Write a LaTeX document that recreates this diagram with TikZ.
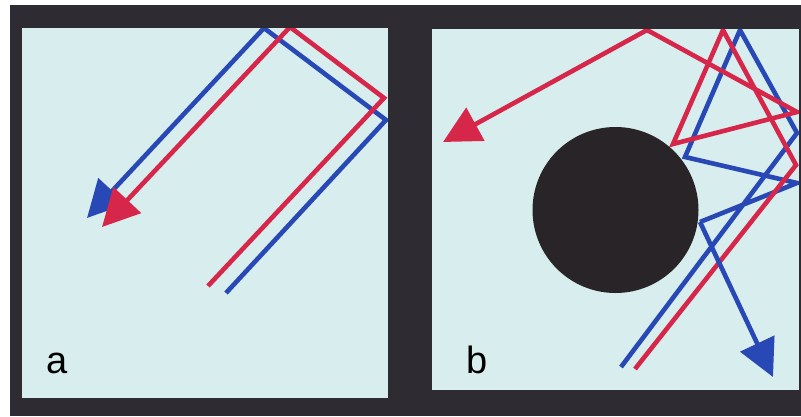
\documentclass[tikz,border=0pt]{standalone}
\usepackage{fontspec}
\setmainfont{Liberation Sans}
\usetikzlibrary{arrows.meta}
\definecolor{framedark}{RGB}{46,44,50}
\definecolor{panelbg}{RGB}{216,237,237}
\definecolor{rayred}{RGB}{214,38,74}
\definecolor{rayblue}{RGB}{40,72,182}
\definecolor{ball}{RGB}{40,36,40}
\begin{document}
\begin{tikzpicture}[x=1pt,y=-1pt,
  ray/.style={line width=4.6pt, line join=miter},
  redray/.style={ray, draw=rayred},
  blueray/.style={ray, draw=rayblue},
  headed/.style={-{Triangle[length=37pt,width=37pt]}},
  panel/.style={fill=panelbg, draw=none},
  lbl/.style={font=\fontsize{38}{38}\selectfont, anchor=base west, inner sep=0pt, text=black}]
\useasboundingbox (0,0) rectangle (801,416);
\fill[white] (0,0) rectangle (801,416);
\fill[framedark] (10,5) rectangle (801,416);
% panels
\fill[panel] (22,28) rectangle (388,398);
\fill[panel] (432,29) rectangle (799,390);
% ---------- panel a ----------
\coordinate (ab0) at (226,293);
\coordinate (ab1) at (386,120);
\coordinate (ab2) at (264,28);
\coordinate (ab3) at (87,218);
\coordinate (ar0) at (208,286);
\coordinate (ar1) at (384,98);
\coordinate (ar2) at (290,27);
\coordinate (ar3) at (102,227);
\begin{scope}
\clip (22,28) rectangle (388,398);
\draw[blueray, headed] (ab0) -- (ab1) -- (ab2) -- (ab3);
\draw[redray, headed] (ar0) -- (ar1) -- (ar2) -- (ar3);
\end{scope}
\node[lbl] (la) at (46,373) {a};
% ---------- panel b ----------
\coordinate (bb0) at (621,367);
\coordinate (bb1) at (797,133);
\coordinate (bb2) at (740,30);
\coordinate (bb3) at (685,157);
\coordinate (bb4) at (797,183);
\coordinate (bb5) at (700,222);
\coordinate (bb6) at (773,377);
\coordinate (br0) at (635,369);
\coordinate (br1) at (796,165);
\coordinate (br2) at (723,30);
\coordinate (br3) at (673,144);
\coordinate (br4) at (797,112);
\coordinate (br5) at (647,30);
\coordinate (br6) at (443,142);
\begin{scope}
\clip (432,29) rectangle (799,390);
\draw[blueray] (bb0) -- (bb1) -- (bb2) -- (bb3) -- (bb4) -- (bb5);
\draw[redray, headed] (br0) -- (br1) -- (br2) -- (br3) -- (br4) -- (br5) -- (br6);
\draw[blueray, headed] (bb5) -- (bb6);
\end{scope}
\fill[ball] (615.5,210) circle[radius=83] coordinate (ballc);
\node[lbl] (lb) at (466,373) {b};
\end{tikzpicture}
\end{document}
